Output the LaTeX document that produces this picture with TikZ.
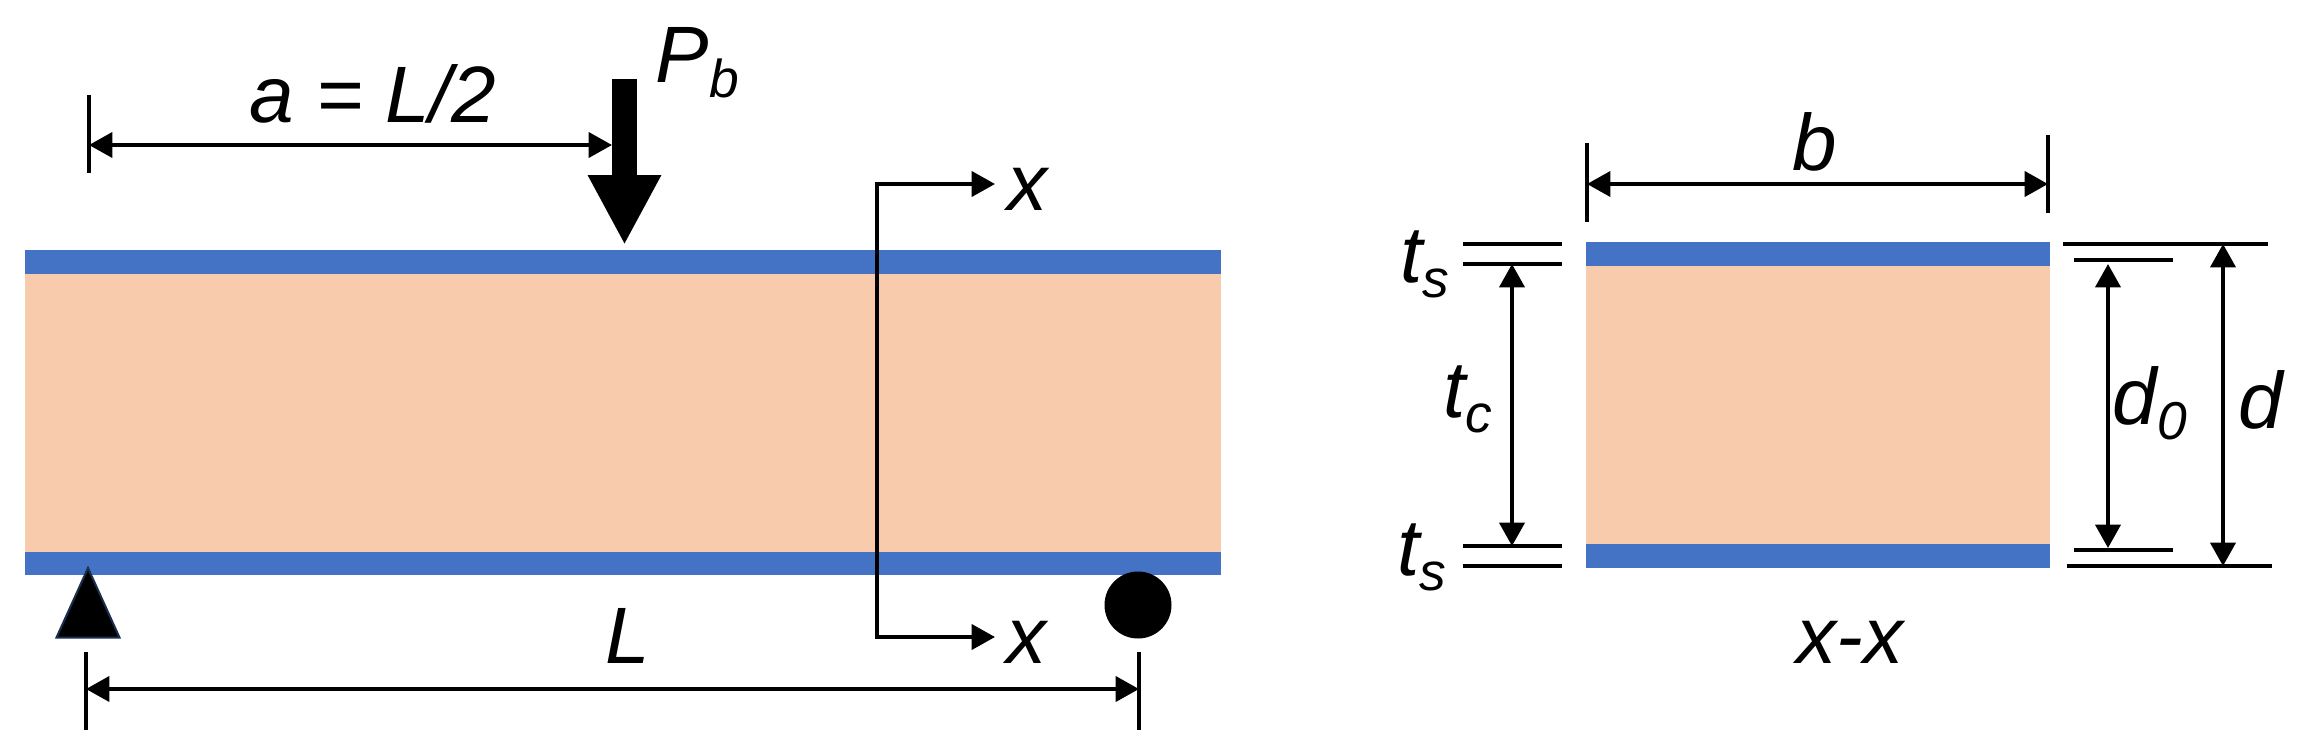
\documentclass[tikz,border=0pt]{standalone}
\usepackage{fontspec}
\setmainfont{Liberation Sans}
\usetikzlibrary{arrows.meta}
\definecolor{skin}{HTML}{4472C4}
\definecolor{core}{HTML}{F8CBAD}
\tikzset{
  x=0.3pt,y=-0.3pt,
  dim/.style={line width=1.15pt,{Triangle[length=7pt,width=7.5pt]}-{Triangle[length=7pt,width=7.5pt]}},
  tail/.style={line width=1.15pt,-{Triangle[length=7pt,width=7.5pt]}},
  tick/.style={line width=1.1pt},
  lab/.style={inner sep=0pt,anchor=base west,font=\fontsize{24}{24}\selectfont\itshape},
  labc/.style={inner sep=0pt,anchor=base,font=\fontsize{24}{24}\selectfont\itshape},
  skinbar/.style={fill=skin,draw=none},
  corebar/.style={fill=core,draw=none},
}
\newcommand{\lowsub}[1]{\raisebox{-4.6pt}{\fontsize{16}{16}\selectfont\itshape #1}}
\begin{document}
\begin{tikzpicture}
\useasboundingbox (0,0) rectangle (2320,753);
% beam
\fill[corebar] (24.5,274) rectangle (1221,552);
\fill[skinbar] (24.5,250) rectangle (1221,274);
\fill[skinbar] (24.5,552) rectangle (1221,575);
% section
\fill[corebar] (1586,266) rectangle (2050,544);
\fill[skinbar] (1586,242) rectangle (2050,266);
\fill[skinbar] (1586,544) rectangle (2050,568);
% supports
\filldraw[fill=black,draw=skin!40!black,line width=0.6pt] (56.5,637.5) -- (88,568) -- (119.5,637.5) -- cycle;
\fill[black] (1138,605) circle[radius=33.5];
% load
\coordinate (loadtop) at (624.5,79);
\coordinate (loadtip) at (624.5,245);
\draw[line width=7.5pt,-{Triangle[length=21pt,width=20.5pt]}] (loadtop) -- (loadtip);
\node[lab] (pb) at (655,82) {P\lowsub{b}};
% dimension a
\coordinate (aT) at (89,95);
\coordinate (aB) at (89,173);
\coordinate (aL) at (89,145);
\coordinate (aR) at (612,145);
\draw[tick] (aT) -- (aB);
\draw[dim] (aL) -- (aR);
\node[labc] (alab) at (373,122) {a = L/2};
% dimension L
\coordinate (LlT) at (86,652);
\coordinate (LlB) at (86,730);
\coordinate (LrT) at (1139,652);
\coordinate (LrB) at (1139,730);
\coordinate (Ll) at (86,689);
\coordinate (Lr) at (1139,689);
\draw[tick] (LlT) -- (LlB);
\draw[tick] (LrT) -- (LrB);
\draw[dim] (Ll) -- (Lr);
\node[labc] (Llab) at (628,663) {L};
% section line
\coordinate (xTop) at (995,184);
\coordinate (xBot) at (995,637);
\coordinate (xA) at (877,184);
\coordinate (xB) at (877,637);
\draw[tail] (xA) -- (xTop);
\draw[tail] (xB) -- (xBot);
\draw[line width=1.15pt,line cap=rect] (xA) -- (xB);
\node[labc] (x1) at (1027,210) {x};
\node[labc] (x2) at (1026,663) {x};
% dimension b
\coordinate (bLT) at (1587,143);
\coordinate (bLB) at (1587,222);
\coordinate (bRT) at (2048,135);
\coordinate (bRB) at (2048,213);
\coordinate (bl) at (1587,184);
\coordinate (br) at (2048,184);
\draw[tick] (bLT) -- (bLB);
\draw[tick] (bRT) -- (bRB);
\draw[dim] (bl) -- (br);
\node[labc] (blab) at (1815,170) {b};
% t_s ticks
\coordinate (t1a) at (1463,244); \coordinate (t1b) at (1562,244);
\coordinate (t2a) at (1463,264); \coordinate (t2b) at (1562,264);
\coordinate (t3a) at (1463,546); \coordinate (t3b) at (1562,546);
\coordinate (t4a) at (1463,566); \coordinate (t4b) at (1562,566);
\draw[tick] (t1a) -- (t1b);
\draw[tick] (t2a) -- (t2b);
\draw[tick] (t3a) -- (t3b);
\draw[tick] (t4a) -- (t4b);
\coordinate (tcT) at (1512,264);
\coordinate (tcB) at (1512,546);
\draw[dim] (tcT) -- (tcB);
\node[lab] (ts1) at (1400,282) {t\lowsub{s}};
\node[lab] (ts2) at (1397,575) {t\lowsub{s}};
\node[lab] (tc) at (1443,417) {t\lowsub{c}};
% d, d0
\coordinate (da) at (2063,244); \coordinate (db) at (2268,244);
\coordinate (dc) at (2067,566); \coordinate (dd) at (2272,566);
\coordinate (ea) at (2074,260); \coordinate (eb) at (2173,260);
\coordinate (ec) at (2074,550); \coordinate (ed) at (2173,550);
\draw[tick] (da) -- (db);
\draw[tick] (dc) -- (dd);
\draw[tick] (ea) -- (eb);
\draw[tick] (ec) -- (ed);
\coordinate (dT) at (2223,244);
\coordinate (dB) at (2223,566);
\coordinate (eT) at (2108,264);
\coordinate (eB) at (2108,548);
\draw[dim] (dT) -- (dB);
\draw[dim] (eT) -- (eB);
\node[lab] (d0lab) at (2112,424) {d\lowsub{0}};
\node[lab] (dlab) at (2238,428) {d};
\node[labc] (xx) at (1850,663) {x-x};
\end{tikzpicture}
\end{document}
